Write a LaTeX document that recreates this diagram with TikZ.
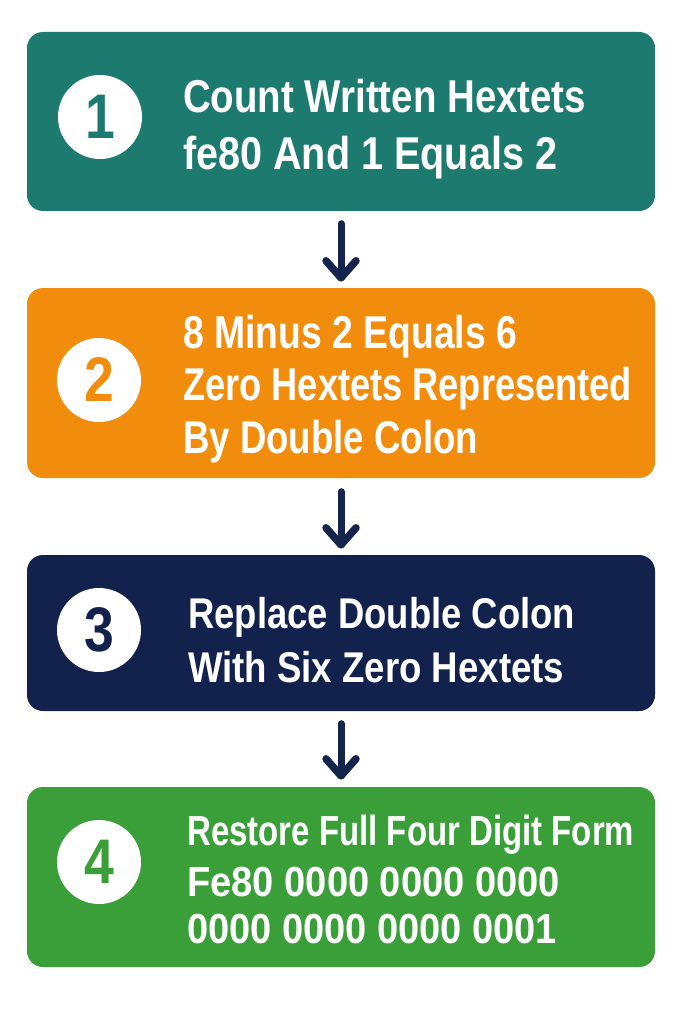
\documentclass[tikz,border=0pt]{standalone}
\usepackage{fontspec}
\setmainfont{Liberation Sans}
\definecolor{tealc}{HTML}{1D7A6F}
\definecolor{orangec}{HTML}{F28C0C}
\definecolor{navyc}{HTML}{12224D}
\definecolor{greenc}{HTML}{3A9F38}
\definecolor{arrowc}{HTML}{15244C}
\newlength\fitlen
\newcommand\fitto[2]{\settowidth{\fitlen}{#2}\pgfmathsetmacro{\fitsx}{#1/\fitlen}\scalebox{\fitsx}[1]{#2}}
\newcommand\fsz[1]{\fontsize{#1}{#1}\selectfont\bfseries}
\tikzset{
  stepbox/.style={rounded corners=16pt, draw=none, inner sep=0pt, minimum width=628pt},
  numcirc/.style={circle, fill=white, draw=none, inner sep=0pt, minimum size=84pt, font=\fsz{63}},
  txtline/.style={anchor=base west, inner sep=0pt, text=white},
  flowline/.style={draw=arrowc, line width=7pt, line cap=round, line join=round}
}
\newcommand\flowarrow[4]{%
  \coordinate (#1s) at ([yshift=-#3]#2);
  \coordinate (#1e) at ([yshift=#4]#1t);
}
\begin{document}
\begin{tikzpicture}[x=1pt,y=-1pt]
\useasboundingbox (0,0) rectangle (683,1024);
\fill[white] (0,0) rectangle (683,1024);
% boxes
\node[stepbox, fill=tealc, minimum height=179pt] (b1) at (341,121.5) {};
\node[stepbox, fill=orangec, minimum height=190pt] (b2) at (341,383) {};
\node[stepbox, fill=navyc, minimum height=156pt] (b3) at (341,633) {};
\node[stepbox, fill=greenc, minimum height=180pt] (b4) at (341,877) {};
% circles
\node[numcirc, text=tealc] (c1) at (100,117) {\scalebox{0.85}[1]{1}};
\node[numcirc, text=orangec] (c2) at (99,380) {\scalebox{0.85}[1]{2}};
\node[numcirc, text=navyc] (c3) at (99,630) {\scalebox{0.85}[1]{3}};
\node[numcirc, text=greenc] (c4) at (99,862) {\scalebox{0.85}[1]{4}};
% texts
\node[txtline, font=\fsz{46}] (t11) at (183,113) {\fitto{403}{Count Written Hextets}};
\node[txtline, font=\fsz{46}] (t12) at (183,170) {\fitto{374}{fe80 And 1 Equals 2}};
\node[txtline, font=\fsz{46}] (t21) at (183,348) {\fitto{334}{8 Minus 2 Equals 6}};
\node[txtline, font=\fsz{46}] (t22) at (183,400) {\fitto{449}{Zero Hextets Represented}};
\node[txtline, font=\fsz{46}] (t23) at (183,453) {\fitto{295}{By Double Colon}};
\node[txtline, font=\fsz{43}] (t31) at (188,628) {\fitto{387}{Replace Double Colon}};
\node[txtline, font=\fsz{43}] (t32) at (188,682) {\fitto{376}{With Six Zero Hextets}};
\node[txtline, font=\fsz{42}] (t41) at (187,845) {\fitto{447}{Restore Full Four Digit Form}};
\node[txtline, font=\fsz{42}] (t42) at (187,896) {\fitto{373}{Fe80 0000 0000 0000}};
\node[txtline, font=\fsz{42}] (t43) at (187,943) {\fitto{370}{0000 0000 0000 0001}};
% arrows: shaft from box to box, head at lower end
\coordinate (a1s) at ([yshift=-12.5pt]b1.south);
\coordinate (a1e) at ([yshift=10pt]b2.north);
\coordinate (a2s) at ([yshift=-13.5pt]b2.south);
\coordinate (a2e) at ([yshift=10pt]b3.north);
\coordinate (a3s) at ([yshift=-12.5pt]b3.south);
\coordinate (a3e) at ([yshift=11pt]b4.north);
\foreach \a in {a1,a2,a3}{
  \draw[flowline] (\a s) -- (\a e);
  \draw[flowline, line width=7.5pt] ([shift={(-15pt,17pt)}]\a e) -- (\a e) -- ([shift={(15pt,17pt)}]\a e);
}
\end{tikzpicture}
\end{document}
